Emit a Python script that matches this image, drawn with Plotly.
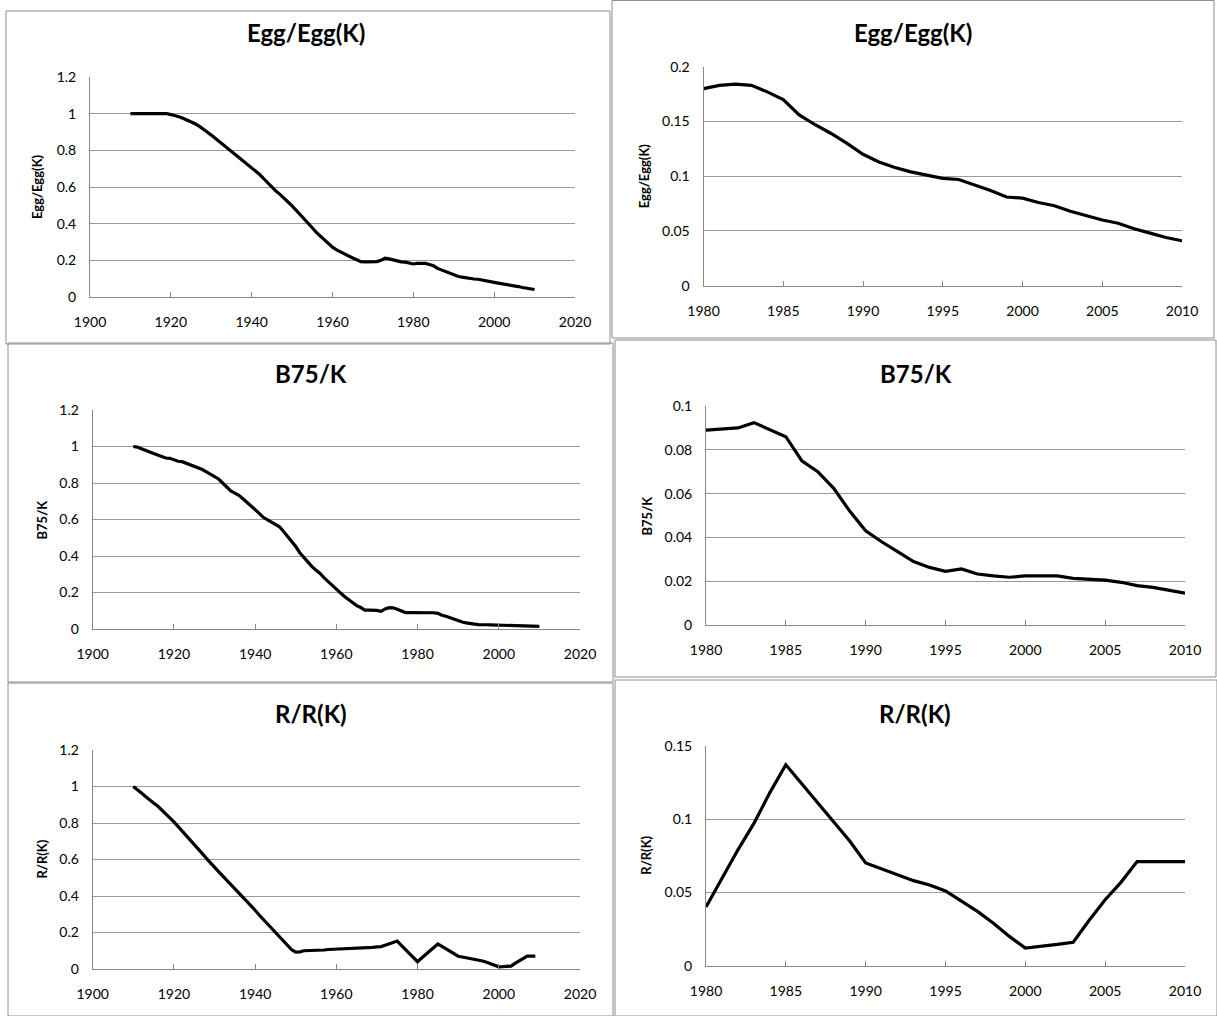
import plotly.graph_objects as go

# ---------------- data ----------------
YEARS_EARLY = list(range(1910, 1980))
YEARS_RECENT = list(range(1980, 2011))

egg_early = [1.0, 1.0, 1.0, 1.0, 1.0, 1.0, 1.0, 1.0, 1.0, 1.0,
             0.995, 0.99, 0.983, 0.975, 0.966, 0.957, 0.945, 0.932, 0.918, 0.9,
             0.883, 0.866, 0.848, 0.832, 0.815, 0.795, 0.776, 0.758, 0.74, 0.722,
             0.706, 0.688, 0.668, 0.645, 0.621, 0.598, 0.578, 0.56, 0.541, 0.518,
             0.497, 0.474, 0.452, 0.428, 0.402, 0.378, 0.352, 0.332, 0.312, 0.29,
             0.272, 0.257, 0.245, 0.234, 0.223, 0.213, 0.203, 0.193, 0.192, 0.192,
             0.192, 0.193, 0.2, 0.212, 0.208, 0.202, 0.197, 0.192, 0.19, 0.183]
egg_recent = [0.18, 0.183, 0.184, 0.183, 0.177, 0.17, 0.156, 0.147, 0.139, 0.13,
              0.12, 0.113, 0.108, 0.104, 0.101, 0.098, 0.097, 0.092, 0.087, 0.081,
              0.08, 0.076, 0.073, 0.068, 0.064, 0.06, 0.057, 0.052, 0.048, 0.044, 0.041]

b75_early = [1.0, 0.997, 0.988, 0.978, 0.97, 0.962, 0.953, 0.944, 0.937, 0.935,
             0.926, 0.919, 0.917, 0.909, 0.9, 0.893, 0.882, 0.874, 0.861, 0.848,
             0.834, 0.822, 0.8, 0.776, 0.757, 0.745, 0.733, 0.714, 0.695, 0.677,
             0.656, 0.634, 0.612, 0.598, 0.585, 0.572, 0.56, 0.534, 0.508, 0.484,
             0.452, 0.418, 0.392, 0.366, 0.342, 0.322, 0.304, 0.28, 0.258, 0.236,
             0.216, 0.198, 0.178, 0.16, 0.143, 0.128, 0.118, 0.103, 0.103, 0.103,
             0.102, 0.097, 0.11, 0.117, 0.116, 0.108, 0.097, 0.09, 0.09, 0.09]
b75_recent = [0.089, 0.0895, 0.09, 0.0924, 0.089, 0.086, 0.075, 0.07, 0.0624, 0.052,
              0.043, 0.038, 0.0335, 0.029, 0.0263, 0.0245, 0.0256, 0.0233, 0.0224, 0.0218,
              0.0224, 0.0224, 0.0224, 0.0213, 0.0209, 0.0205, 0.0195, 0.018, 0.0172, 0.0157, 0.0145]

r_early = [1.0, 0.985, 0.965, 0.945, 0.93, 0.91, 0.893, 0.872, 0.848, 0.826,
           0.806, 0.782, 0.758, 0.732, 0.708, 0.685, 0.66, 0.632, 0.606, 0.58,
           0.556, 0.534, 0.51, 0.487, 0.463, 0.44, 0.416, 0.393, 0.37, 0.346,
           0.322, 0.296, 0.272, 0.248, 0.224, 0.2, 0.175, 0.15, 0.126, 0.105,
           0.093, 0.094, 0.1, 0.1, 0.1, 0.1, 0.102, 0.104, 0.107, 0.108,
           0.108, 0.109, 0.11, 0.11, 0.11, 0.111, 0.112, 0.113, 0.116, 0.119,
           0.121, 0.123, 0.13, 0.138, 0.145, 0.153, 0.13, 0.108, 0.085, 0.062]
r_recent = [0.04, 0.06, 0.079, 0.097, 0.118, 0.137, 0.124, 0.111, 0.098, 0.085,
            0.07, 0.066, 0.062, 0.058, 0.055, 0.051, 0.044, 0.037, 0.029, 0.02,
            0.012, 0.013, 0.0145, 0.016, 0.031, 0.045, 0.057, 0.071, 0.071, 0.071, 0.071]

TITLES = ["Egg/Egg(K)", "Egg/Egg(K)", "B75/K", "B75/K", "R/R(K)", "R/R(K)"]

# ---------------- layout helpers ----------------
W, H = 1217, 1016
FONT = "Lato"


def fx(px):
    return px / W


def fy(py):
    return 1 - py / H


# (x0, x1, ytop, ybottom) of each plot area in pixels
AREAS = [
    (90, 575, 77, 297),
    (703.5, 1182, 66.7, 285.7),
    (92.7, 580, 410, 629),
    (706, 1185, 406, 625),
    (92.7, 580, 750, 969),
    (706, 1185, 745.7, 965.7),
]
# frames around each chart (x0, y0, x1, y1) in pixels
FRAMES = [
    (6, 11, 610, 344),
    (612, 0.5, 1214, 338),
    (8, 343, 613, 682),
    (615, 340, 1216, 677),
    (8, 683, 613, 1016),
    (615, 680, 1217, 1016),
]
TITLE_POS = [(306, 33), (913, 33), (311, 373), (916, 373), (311, 713), (915, 713)]
YTITLE_X = [37, 644, 41, 646, 41, 646]

series = [
    (YEARS_EARLY + YEARS_RECENT, egg_early + egg_recent),
    (YEARS_RECENT, egg_recent),
    (YEARS_EARLY + YEARS_RECENT, b75_early + b75_recent),
    (YEARS_RECENT, b75_recent),
    (YEARS_EARLY + YEARS_RECENT[:-1], r_early + r_recent[:-1]),
    (YEARS_RECENT, r_recent),
]
XRANGES = [(1900, 2020, 20), (1980, 2010, 5)] * 3
YRANGES = [(0, 1.2, 0.2), (0, 0.2, 0.05), (0, 1.2, 0.2), (0, 0.1, 0.02), (0, 1.2, 0.2), (0, 0.15, 0.05)]

fig = go.Figure()
layout = dict(
    width=W, height=H, autosize=False, margin=dict(l=0, r=0, t=0, b=0, pad=0),
    paper_bgcolor="white", plot_bgcolor="white", showlegend=False,
    font=dict(family=FONT, color="black"),
)
annotations = []
shapes = []
for i in range(6):
    n = "" if i == 0 else str(i + 1)
    xs, ys = series[i]
    fig.add_trace(go.Scatter(x=xs, y=ys, mode="lines",
                             line=dict(color="black", width=3.2),
                             xaxis="x" + n, yaxis="y" + n))
    x0, x1, yt, yb = AREAS[i]
    xr = XRANGES[i]
    yr = YRANGES[i]
    layout["xaxis" + n] = dict(
        domain=[fx(x0), fx(x1)], range=[xr[0], xr[1]], dtick=xr[2], tick0=xr[0],
        anchor="y" + n, showgrid=False, zeroline=False, automargin=False,
        showline=True, linecolor="#868686", linewidth=1,
        ticks="inside", ticklen=5, tickcolor="#868686",
        tickfont=dict(family=FONT, size=14, color="black"),
        ticklabelstandoff=12,
    )
    layout["yaxis" + n] = dict(
        domain=[fy(yb), fy(yt)], range=[yr[0], yr[1]], dtick=yr[2], tick0=0,
        anchor="x" + n, showgrid=True, gridcolor="#9a9a9a", gridwidth=1,
        zeroline=False, showline=True, linecolor="#868686", linewidth=1,
        automargin=False,
        ticks="", tickfont=dict(family=FONT, size=14, color="black"),
        ticklabelstandoff=10,
    )
    tx, ty = TITLE_POS[i]
    annotations.append(dict(
        text="<b>" + TITLES[i] + "</b>", x=fx(tx), y=fy(ty), xref="paper", yref="paper",
        xanchor="center", yanchor="middle", showarrow=False,
        font=dict(family=FONT, size=24, color="black")))
    annotations.append(dict(
        text="<b>" + TITLES[i] + "</b>", x=fx(YTITLE_X[i]), y=fy((yt + yb) / 2),
        xref="paper", yref="paper", xanchor="center", yanchor="middle",
        textangle=-90, showarrow=False,
        font=dict(family=FONT, size=13, color="black")))
    fx0, fy0, fx1, fy1 = FRAMES[i]
    shapes.append(dict(type="rect", xref="paper", yref="paper",
                       x0=fx(fx0), x1=fx(fx1), y0=fy(fy1), y1=fy(fy0),
                       line=dict(color="#8c8c8c", width=1), fillcolor="rgba(0,0,0,0)",
                       layer="below"))

layout["annotations"] = annotations
layout["shapes"] = shapes
fig.update_layout(**layout)
fig.write_html(
    "out.html",
    config={"displayModeBar": False},
    post_script="document.body.style.margin='0';document.body.style.overflow='hidden';",
)
